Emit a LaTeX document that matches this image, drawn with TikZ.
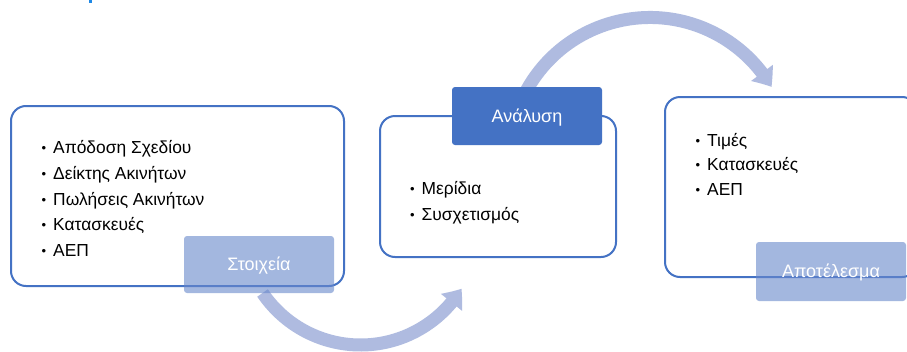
\documentclass[tikz,border=0pt]{standalone}
\usepackage{fontspec}
\setmainfont{Liberation Sans}
\usetikzlibrary{arrows.meta,bending}
\definecolor{boxblue}{RGB}{68,114,196}
\definecolor{bandblue}{RGB}{175,187,224}
\definecolor{lightlab}{RGB}{103,135,203}
\definecolor{titleblue}{RGB}{30,136,229}
\newcommand\mybullet{\makebox[11.5pt][l]{\fontsize{13}{13}\selectfont\raisebox{0.8pt}{•}}}
\begin{document}
\begin{tikzpicture}[x=1pt,y=-1pt,
  frame/.style={draw=boxblue, line width=2pt, rounded corners=15pt},
  darklab/.style={fill=boxblue, rounded corners=3pt, minimum width=150pt,
    minimum height=58pt, inner sep=0pt, text=white,
    font=\fontsize{18}{20}\selectfont, text height=12.9pt, text depth=0pt},
  lightlabel/.style={darklab, fill=lightlab, fill opacity=0.6, text opacity=1},
  item/.style={anchor=base west, inner sep=0pt, font=\fontsize{17.4}{20}\selectfont},
  band/.style={draw=bandblue, line width=13pt, -{Triangle[length=17pt,width=26pt,bend]}}]
\useasboundingbox (0,0) rectangle (907,351);
\fill[white] (0,0) rectangle (907,351);
\fill[titleblue] (89,0) rectangle (92,2.5);
% arrows
\coordinate (c1) at (360.6,226.6);
\coordinate (c2) at (650,158.5);
\draw[band] ([shift={(-145.9:118.4pt)}]c1) arc[start angle=-145.9, end angle=-31.6, radius=118.4pt];
\draw[band] ([shift={(152:141pt)}]c2) arc[start angle=152, end angle=30.5, radius=141pt];
% frames
\node[frame, minimum width=333pt, minimum height=180pt] (box1) at (177.5,196) {};
\node[frame, minimum width=236pt, minimum height=141pt] (box2) at (498,186.5) {};
\node[frame, minimum width=252pt, minimum height=180pt] (box3) at (791,187) {};
% labels
\node[lightlabel, minimum height=57pt] (lab1) at (259,264.5) {Στοιχεία};
\node[darklab] (lab2) at (527,116) {Ανάλυση};
\node[lightlabel, minimum height=59pt] (lab3) at (831,271.5) {Αποτέλεσμα};
% items
\node[item] (i11) at (41.5,153) {\mybullet Απόδοση Σχεδίου};
\node[item] (i12) at (41.5,179) {\mybullet Δείκτης Ακινήτων};
\node[item] (i13) at (41.5,205) {\mybullet Πωλήσεις Ακινήτων};
\node[item] (i14) at (41.5,230) {\mybullet Κατασκευές};
\node[item] (i15) at (41.5,256) {\mybullet ΑΕΠ};
\node[item] (i21) at (410,194) {\mybullet Μερίδια};
\node[item] (i22) at (410,220) {\mybullet Συσχετισμός};
\node[item] (i31) at (695.5,146) {\mybullet Τιμές};
\node[item] (i32) at (695.5,170) {\mybullet Κατασκευές};
\node[item] (i33) at (695.5,195) {\mybullet ΑΕΠ};
\end{tikzpicture}
\end{document}
